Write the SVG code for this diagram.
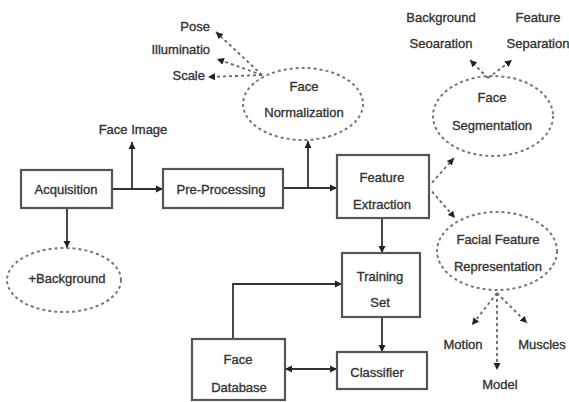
<svg xmlns="http://www.w3.org/2000/svg" width="569" height="402" viewBox="0 0 569 402">
<defs>
<marker id="ah" markerUnits="userSpaceOnUse" markerWidth="8" markerHeight="8" refX="7" refY="4" orient="auto-start-reverse">
<path d="M0,0.5 L7,4 L0,7.5 z" fill="#222"/>
</marker>
<style>
text{font-family:"Liberation Sans",Arial,sans-serif;font-size:13px;fill:#2e2e2e;stroke:#3a3a3a;stroke-width:0.35;text-anchor:middle}
.box{fill:#fff;stroke:#555;stroke-width:2.2}
.ell{fill:none;stroke:#777;stroke-width:2;stroke-dasharray:3 3}
.c{fill:none;stroke:#333;stroke-width:1.8}
.d{fill:none;stroke:#666;stroke-width:1.8;stroke-dasharray:3 3}
.r{text-anchor:end}
</style>
</defs>
<rect width="569" height="402" fill="#fff"/>
<g id="connectors">
<path class="c" d="M112,189 L163,189" marker-end="url(#ah)"/>
<path class="c" d="M132,189 L132,142" marker-end="url(#ah)"/>
<path class="c" d="M67,208 L67,248" marker-end="url(#ah)"/>
<path class="c" d="M283,188 L337,188" marker-end="url(#ah)"/>
<path class="c" d="M308,188 L308,141" marker-end="url(#ah)"/>
<path class="c" d="M382,218 L382,253" marker-end="url(#ah)"/>
<path class="c" d="M382,317 L382,352" marker-end="url(#ah)"/>
<path class="c" d="M233,339 L233,284 L342,284" marker-end="url(#ah)"/>
<path class="c" d="M285,369 L337,369" marker-start="url(#ah)" marker-end="url(#ah)"/>
<path class="d" d="M262,75 L216,32" marker-end="url(#ah)"/>
<path class="d" d="M262,75 L217,59" marker-end="url(#ah)"/>
<path class="d" d="M262,75 L208,77" marker-end="url(#ah)"/>
<path class="d" d="M428,187 L454,158" marker-end="url(#ah)"/>
<path class="d" d="M428,187 L455,218" marker-end="url(#ah)"/>
<path class="d" d="M488,78 L470,60" marker-end="url(#ah)"/>
<path class="d" d="M488,78 L512,60" marker-end="url(#ah)"/>
<path class="d" d="M497,293 L472,325" marker-end="url(#ah)"/>
<path class="d" d="M497,293 L497,370" marker-end="url(#ah)"/>
<path class="d" d="M497,293 L527,323" marker-end="url(#ah)"/>
</g>
<g id="acquisition"><rect class="box" x="21" y="170" width="91" height="38"/><text x="66" y="194">Acquisition</text></g>
<g id="face-image"><text x="133" y="134">Face Image</text></g>
<g id="background"><ellipse class="ell" cx="64" cy="280" rx="57" ry="32"/><text x="67" y="283">+Background</text></g>
<g id="preprocessing"><rect class="box" x="163" y="169" width="120" height="39"/><text x="221" y="194">Pre-Processing</text></g>
<g id="face-normalization"><ellipse class="ell" cx="303" cy="104" rx="60" ry="36"/><text x="304" y="91">Face</text><text x="304" y="117">Normalization</text></g>
<g id="pose"><text class="r" x="210" y="31">Pose</text></g>
<g id="illumination"><text class="r" x="210" y="54">Illuminatio</text></g>
<g id="scale"><text class="r" x="205" y="80">Scale</text></g>
<g id="feature-extraction"><rect class="box" x="337" y="155" width="92" height="63"/><text x="382" y="182">Feature</text><text x="382" y="209">Extraction</text></g>
<g id="face-segmentation"><ellipse class="ell" cx="493" cy="116" rx="60" ry="40"/><text x="492" y="102">Face</text><text x="492" y="130">Segmentation</text></g>
<g id="background-separation"><text x="441" y="22">Background</text><text x="441" y="48">Seoaration</text></g>
<g id="feature-separation"><text x="538" y="22">Feature</text><text x="538" y="48">Separation</text></g>
<g id="facial-feature-representation"><ellipse class="ell" cx="497" cy="251" rx="60" ry="39"/><text x="498" y="244">Facial Feature</text><text x="498" y="271">Representation</text></g>
<g id="motion"><text x="463" y="349">Motion</text></g>
<g id="muscles"><text x="542" y="349">Muscles</text></g>
<g id="model"><text x="500" y="389">Model</text></g>
<g id="training-set"><rect class="box" x="342" y="253" width="78" height="64"/><text x="380" y="281">Training</text><text x="380" y="307">Set</text></g>
<g id="classifier"><rect class="box" x="337" y="352" width="90" height="37"/><text x="377" y="377">Classifier</text></g>
<g id="face-database"><rect class="box" x="192" y="339" width="93" height="61"/><text x="238" y="364">Face</text><text x="239" y="392">Database</text></g>
</svg>
